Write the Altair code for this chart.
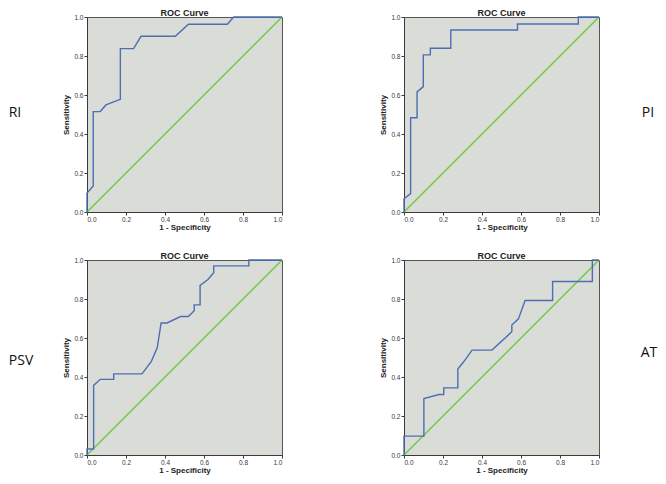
import altair as alt
import pandas as pd

# ---- data (1 - specificity, sensitivity) ----
ri_fpr = [0, 0, 0.032, 0.032, 0.068, 0.097, 0.14, 0.171, 0.171, 0.239, 0.277, 0.453, 0.52, 0.72, 0.752, 1.0]
ri_tpr = [0, 0.097, 0.133, 0.515, 0.515, 0.549, 0.566, 0.578, 0.838, 0.838, 0.901, 0.901, 0.963, 0.963, 1.0, 1.0]

pi_fpr = [0, 0, 0.034, 0.034, 0.067, 0.067, 0.099, 0.099, 0.135, 0.135, 0.24, 0.24, 0.582, 0.582, 0.894, 0.894, 1.0]
pi_tpr = [0, 0.068, 0.094, 0.483, 0.483, 0.616, 0.643, 0.806, 0.806, 0.84, 0.84, 0.933, 0.933, 0.964, 0.964, 1.0, 1.0]

psv_fpr = [0, 0, 0.034, 0.034, 0.068, 0.137, 0.137, 0.282, 0.33, 0.36, 0.38, 0.41, 0.48, 0.52, 0.55, 0.55, 0.58, 0.58, 0.62, 0.65, 0.65, 0.83, 0.83, 1.0]
psv_tpr = [0, 0.031, 0.031, 0.357, 0.388, 0.388, 0.416, 0.416, 0.48, 0.55, 0.677, 0.677, 0.71, 0.71, 0.74, 0.77, 0.77, 0.87, 0.9, 0.935, 0.97, 0.97, 1.0, 1.0]

at_fpr = [0, 0, 0.102, 0.102, 0.179, 0.204, 0.204, 0.276, 0.276, 0.306, 0.349, 0.451, 0.553, 0.553, 0.587, 0.621, 0.762, 0.762, 0.966, 0.966, 1.0]
at_tpr = [0, 0.097, 0.097, 0.289, 0.31, 0.31, 0.344, 0.344, 0.441, 0.478, 0.538, 0.538, 0.632, 0.667, 0.698, 0.792, 0.792, 0.89, 0.89, 1.0, 1.0]

diag_x = [0, 1]
diag_y = [0, 1]

tick_values = [0.0, 0.2, 0.4, 0.6, 0.8, 1.0]
labels = ["RI", "PI", "PSV", "AT"]

BLUE = "#4d6db5"
GREEN = "#6ac93d"
BG = "#dadcd8"
DARK = "#3a3a3a"
FONT = "Liberation Sans"

W, H = 195, 195


def panel(fpr, tpr, label, lx, ly):
    df = pd.DataFrame({"fpr": fpr, "tpr": tpr, "i": list(range(len(fpr)))})
    dg = pd.DataFrame({"fpr": diag_x, "tpr": diag_y, "i": [0, 1]})
    xs = alt.Scale(domain=[0, 1], nice=False, zero=False)
    ys = alt.Scale(domain=[0, 1], nice=False, zero=False)
    xaxis = alt.Axis(values=tick_values, format=".1f", title="1 - Specificity", grid=False,
                     labelFontSize=6.5, labelFont=FONT, labelColor=DARK, tickSize=3,
                     tickColor=DARK, domainColor=DARK, labelPadding=1,
                     titleFont=FONT, titleFontSize=8, titleFontWeight="bold",
                     titleColor="#222", titlePadding=1)
    yaxis = alt.Axis(values=tick_values, format=".1f", title="Sensitivity", grid=False,
                     labelFontSize=6.5, labelFont=FONT, labelColor=DARK, tickSize=3,
                     tickColor=DARK, domainColor=DARK, labelPadding=1,
                     titleFont=FONT, titleFontSize=8, titleFontWeight="bold",
                     titleColor="#222", titlePadding=3)
    diag = alt.Chart(dg).mark_line(color=GREEN, strokeWidth=1.4).encode(
        x=alt.X("fpr:Q", scale=xs, axis=xaxis),
        y=alt.Y("tpr:Q", scale=ys, axis=yaxis),
        order="i:Q",
    )
    roc = alt.Chart(df).mark_line(color=BLUE, strokeWidth=1.4).encode(
        x=alt.X("fpr:Q", scale=xs, axis=xaxis),
        y=alt.Y("tpr:Q", scale=ys, axis=yaxis),
        order="i:Q",
    )
    lab = alt.Chart(pd.DataFrame({"t": [label]})).mark_text(
        font="Open Sans", fontSize=14, align="center", baseline="middle", color="#111"
    ).encode(x=alt.value(lx), y=alt.value(ly), text="t:N")
    return alt.layer(diag, roc, lab).properties(
        width=W, height=H,
        title=alt.TitleParams("ROC Curve", font=FONT, fontSize=9, fontWeight="bold",
                              color="#222", offset=-4),
    )


p1 = panel(ri_fpr, ri_tpr, labels[0], -72, 96)
p2 = panel(pi_fpr, pi_tpr, labels[1], 244, 96)
p3 = panel(psv_fpr, psv_tpr, labels[2], -66, 101)
p4 = panel(at_fpr, at_tpr, labels[3], 245, 93)

chart = alt.concat(
    p1, p2, p3, p4, columns=2, spacing={"row": 48, "column": 122}, bounds="flush",
    padding={"left": 0, "top": 0, "right": 0, "bottom": 0}
).configure_view(fill=BG, stroke="#555555", strokeWidth=1)

chart.save("out.html", embed_options={"renderer": "svg", "actions": False})
